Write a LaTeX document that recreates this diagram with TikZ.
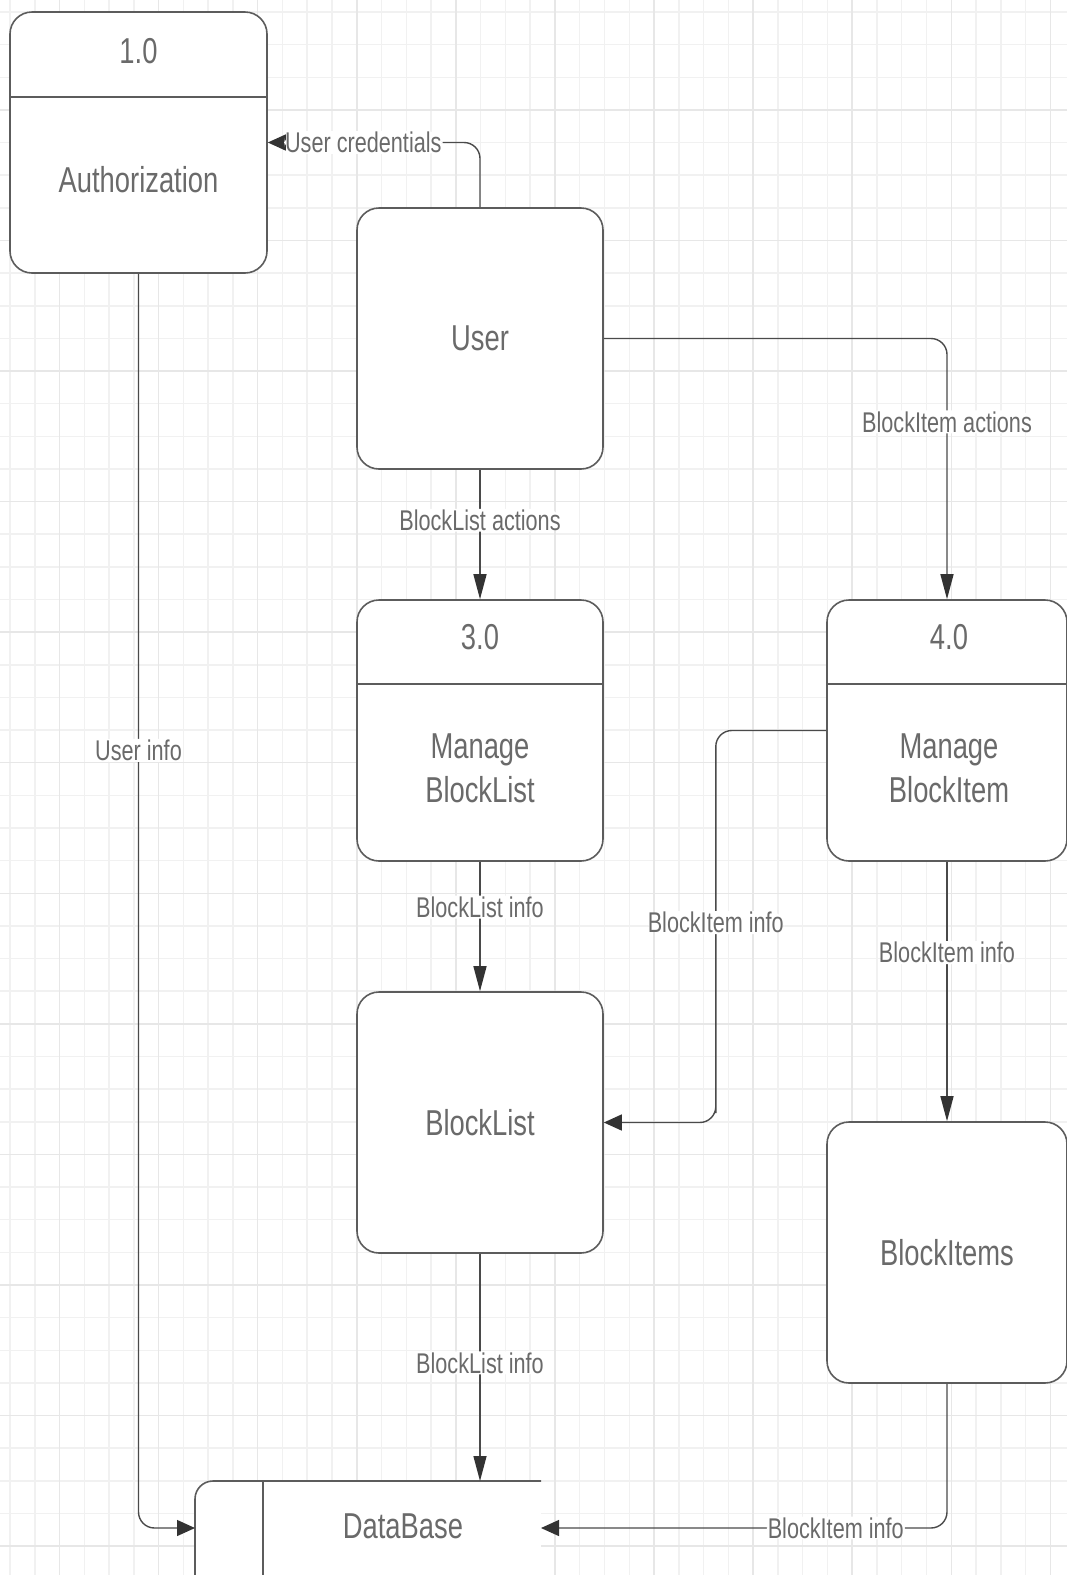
\documentclass[tikz,border=0pt]{standalone}
\usepackage{fontspec}
\newfontfamily\dfdfont[FakeStretch=0.76]{Liberation Sans}
\usetikzlibrary{arrows.meta}
\definecolor{linegray}{HTML}{5C5C5C}
\definecolor{flowgray}{HTML}{4A4A4A}
\definecolor{tipgray}{HTML}{333333}
\definecolor{textgray}{HTML}{6A6A6A}
\definecolor{minorgrid}{HTML}{F1F1F1}
\definecolor{majorgrid}{HTML}{E7E7E7}
\tikzset{
  proc/.style={draw=linegray, line width=1.6pt, rounded corners=22pt, fill=white,
    minimum width=246pt, minimum height=261pt, inner sep=0pt, text=textgray,
    align=center, font=\dfdfont\fontsize{36}{44}\selectfont},
  ptext/.style={text=textgray, align=center, font=\dfdfont\fontsize{36}{44}\selectfont},
  flow/.style={draw=flowgray, line width=1.4pt, rounded corners=16pt},
  tipv/.style={-{Triangle[length=25pt,width=13pt,color=tipgray]}},
  tiph/.style={-{Triangle[length=18pt,width=16pt,color=tipgray]}},
  lbl/.style={fill=white, text=textgray, inner sep=1pt,
    font=\dfdfont\fontsize{28.5}{34}\selectfont},
}

\begin{document}
\begin{tikzpicture}[x=1pt,y=-1pt]
  \useasboundingbox (0,0) rectangle (1067,1575);
  \clip (0,0) rectangle (1067,1575);
  \fill[white] (0,0) rectangle (1067,1575);
  \foreach \k in {0,...,43} \draw[minorgrid, line width=1.5pt] ({10+\k*24.77},0) -- ++(0,1575);
  \foreach \k in {0,...,48} \draw[minorgrid, line width=1.5pt] (0,{12+\k*32.64}) -- ++(1067,0);
  \foreach \k in {2,6,...,42} \draw[majorgrid, line width=1.5pt] ({10+\k*24.77},0) -- ++(0,1575);
  \foreach \k in {3,7,...,47} \draw[majorgrid, line width=1.5pt] (0,{12+\k*32.64}) -- ++(1067,0);

  \node[proc, minimum width=257pt] (auth) at (138.5,142.5) {};
  \draw[linegray, line width=1.6pt] (auth.west |- 0,97) -- (auth.east |- 0,97);
  \node[ptext] (authno) at (138.5,51) {1.0};
  \node[ptext] (authname) at (138.5,180) {Authorization};

  \node[proc] (user) at (480,338.5) {User};

  \node[proc] (mbl) at (480,730.5) {};
  \draw[linegray, line width=1.6pt] (mbl.west |- 0,684) -- (mbl.east |- 0,684);
  \node[ptext] (mblno) at (480,637) {3.0};
  \node[ptext] (mblname) at (480,768) {Manage\\BlockList};

  \node[proc, minimum width=240pt] (mbi) at (947,730.5) {};
  \draw[linegray, line width=1.6pt] (mbi.west |- 0,684) -- (mbi.east |- 0,684);
  \node[ptext] (mbino) at (949,637) {4.0};
  \node[ptext] (mbiname) at (949,768) {Manage\\BlockItem};

  \node[proc] (blist) at (480,1122.5) {BlockList};
  \node[proc, minimum width=240pt] (bitems) at (947,1252.5) {BlockItems};

  \fill[white] (196,1482) rectangle (541,1620);
  \draw[linegray, line width=1.6pt, rounded corners=18pt] (541,1481) -- (195,1481) -- (195,1620);
  \draw[linegray, line width=1.6pt] (263,1481) -- (263,1620);
  \node[ptext] (db) at (403,1526) {DataBase};
  \coordinate (dbw) at (195,1528);
  \coordinate (dbe) at (541,1528);
  \coordinate (dbn) at (480,1481);

  \draw[flow, tiph] (user.north) |- node[lbl, pos=0.775] {User credentials} (auth.east);
  \draw[flow, tipv] (user.east) -| node[lbl, pos=0.66] {BlockItem actions} (mbi.north);
  \draw[flow, tipv] (user) -- node[lbl, pos=0.39] {BlockList actions} (mbl);
  \draw[flow, tiph] (auth.south) |- node[lbl, pos=0.19] {User info} (dbw);
  \draw[flow, tipv] (mbl) -- node[lbl, pos=0.35] {BlockList info} (blist);
  \draw[flow, tiph] (mbi.west) -| node[lbl, pos=0.745] {BlockItem info} ([xshift=112pt]blist.east) |- (blist.east);
  \draw[flow, tipv] (mbi) -- node[lbl, pos=0.35] {BlockItem info} (bitems);
  \draw[flow, tipv] (blist) -- node[lbl, pos=0.48] {BlockList info} (dbn);
  \draw[flow, tiph] (bitems.south) |- node[lbl, pos=0.637] {BlockItem info} (dbe);
\end{tikzpicture}
\end{document}
